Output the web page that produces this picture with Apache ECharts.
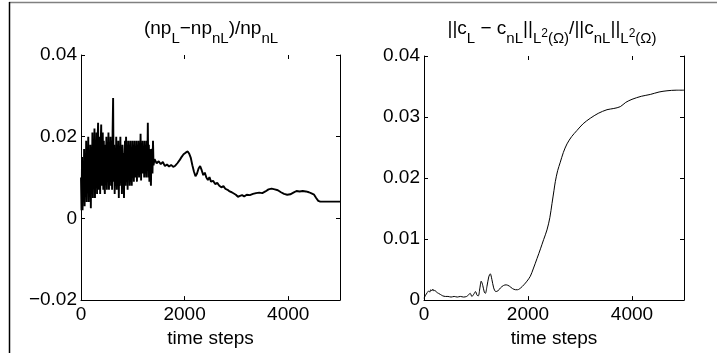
<!DOCTYPE html>
<html>
<head>
<meta charset="utf-8">
<script src="https://cdn.jsdelivr.net/npm/echarts@6/dist/echarts.min.js"></script>
<style>
  html, body { margin: 0; padding: 0; background: #fff; }
  #main { width: 717px; height: 353px; }
</style>
</head>
<body>
<div id="main"></div>
<script>
// left panel: (npL - npnL)/npnL against time steps
var stepsA = [
  0, 10, 20, 30, 40, 50, 60, 70, 80, 90, 100, 110, 120, 130, 140, 150, 160, 170, 180, 190,
  200, 210, 220, 230, 240, 250, 260, 270, 280, 290, 300, 310, 320, 330, 340, 350, 360, 370, 380, 390,
  400, 410, 420, 430, 440, 450, 460, 470, 480, 490, 500, 510, 520, 530, 540, 550, 560, 570, 580, 590,
  600, 610, 620, 630, 640, 650, 660, 670, 680, 690, 700, 710, 720, 730, 740, 750, 760, 770, 780, 790,
  800, 810, 820, 830, 840, 850, 860, 870, 880, 890, 900, 910, 920, 930, 940, 950, 960, 970, 980, 990,
  1000, 1010, 1020, 1030, 1040, 1050, 1060, 1070, 1080, 1090, 1100, 1110, 1120, 1130, 1140, 1150, 1160, 1170, 1180, 1190,
  1200, 1210, 1220, 1230, 1240, 1250, 1260, 1270, 1280, 1290, 1300, 1310, 1320, 1330, 1340, 1350, 1360, 1370, 1380, 1390,
  1400, 1420, 1460, 1500, 1540, 1580, 1620, 1660, 1700, 1740, 1780, 1820, 1860, 1900, 1940, 1980, 2020, 2060, 2090, 2120,
  2150, 2180, 2210, 2240, 2270, 2300, 2330, 2360, 2390, 2420, 2450, 2480, 2510, 2550, 2590, 2630, 2670, 2710, 2750, 2790,
  2830, 2870, 2910, 2950, 2990, 3030, 3070, 3110, 3150, 3200, 3260, 3320, 3380, 3440, 3500, 3560, 3620, 3680, 3740, 3800,
  3860, 3920, 3980, 4040, 4100, 4160, 4220, 4280, 4340, 4400, 4450, 4500, 4540, 4580, 4620, 4700, 4800, 4900, 5000
];
var ratioA = [
  0.010, 0.002, 0.015, 0.002, 0.013, 0.004, 0.017, 0.003, 0.014, 0.006, 0.019, 0.004, 0.016, 0.007, 0.020, 0.004, 0.015, 0.006, 0.018, 0.0025,
  0.016, 0.007, 0.021, 0.005, 0.018, 0.008, 0.022, 0.005, 0.017, 0.008, 0.021, 0.006, 0.019, 0.0234, 0.007, 0.016, 0.020, 0.006, 0.018, 0.023,
  0.008, 0.017, 0.021, 0.007, 0.019, 0.009, 0.006, 0.018, 0.010, 0.020, 0.007, 0.017, 0.009, 0.021, 0.007, 0.018, 0.009, 0.020, 0.008, 0.019,
  0.007, 0.021, 0.0295, 0.009, 0.018, 0.006, 0.017, 0.008, 0.020, 0.007, 0.018, 0.009, 0.019, 0.005, 0.016, 0.008, 0.020, 0.009, 0.017, 0.006,
  0.018, 0.009, 0.016, 0.005, 0.015, 0.019, 0.008, 0.020, 0.009, 0.017, 0.007, 0.019, 0.010, 0.018, 0.008, 0.019, 0.009, 0.016, 0.008, 0.019,
  0.010, 0.018, 0.009, 0.019, 0.010, 0.017, 0.010, 0.019, 0.009, 0.018, 0.011, 0.019, 0.010, 0.017, 0.011, 0.0207, 0.0093, 0.018, 0.011, 0.019,
  0.011, 0.017, 0.010, 0.019, 0.011, 0.018, 0.010, 0.019, 0.012, 0.0234, 0.010, 0.018, 0.009, 0.017, 0.011, 0.008, 0.016, 0.017, 0.011, 0.019,
  0.013, 0.0145, 0.0135, 0.0140, 0.0133, 0.0138, 0.0128, 0.0132, 0.0127, 0.0131, 0.0126, 0.0129, 0.0135, 0.0142, 0.0150, 0.0157, 0.0161, 0.0164, 0.0158, 0.0148,
  0.0130, 0.0115, 0.0103, 0.0110, 0.0122, 0.0128, 0.0118, 0.0106, 0.0112, 0.0100, 0.0094, 0.0101, 0.0090, 0.0092, 0.0084, 0.0087, 0.0080, 0.0076, 0.0079, 0.0072,
  0.0070, 0.0066, 0.0064, 0.0061, 0.0058, 0.0053, 0.0055, 0.0057, 0.0054, 0.0058, 0.0057, 0.0060, 0.0062, 0.0063, 0.0062, 0.0066, 0.0071, 0.0073, 0.0071, 0.0069,
  0.0064, 0.0060, 0.0058, 0.0059, 0.0063, 0.0067, 0.0066, 0.0067, 0.0066, 0.0064, 0.0061, 0.0058, 0.0050, 0.0043, 0.0041, 0.0041, 0.0041, 0.0041, 0.0041
];

// right panel: relative L2 error of c against time steps
var stepsB = [
  0, 30, 60, 90, 110, 130, 150, 170, 190, 210, 240, 280, 320, 360, 410, 460, 520, 580, 640, 700,
  760, 820, 860, 890, 920, 960, 990, 1020, 1045, 1075, 1100, 1130, 1160, 1180, 1210, 1245, 1275, 1305, 1340, 1380,
  1420, 1470, 1530, 1580, 1640, 1700, 1760, 1800, 1860, 1920, 1980, 2044, 2100, 2173, 2240, 2300, 2365, 2420, 2461, 2500,
  2525, 2570, 2621, 2680, 2750, 2840, 2942, 3060, 3198, 3350, 3519, 3650, 3775, 3880, 4000, 4180, 4352, 4520, 4673, 4850, 5000
];
var errB = [
  0.0003, 0.0008, 0.0012, 0.0015, 0.0013, 0.0017, 0.0015, 0.0018, 0.0015, 0.0016, 0.0013, 0.0011, 0.0009, 0.0007, 0.0006, 0.0006, 0.0005, 0.0006, 0.0005, 0.0006,
  0.0005, 0.0006, 0.0009, 0.0011, 0.0006, 0.0010, 0.0014, 0.0008, 0.0007, 0.0020, 0.0031, 0.0024, 0.0013, 0.0011, 0.0022, 0.0038, 0.0043, 0.0034, 0.0020, 0.0014,
  0.0015, 0.0020, 0.0024, 0.0025, 0.0023, 0.0019, 0.0017, 0.0017, 0.0020, 0.0025, 0.0031, 0.0039, 0.0051, 0.0068, 0.0084, 0.0099, 0.0115, 0.0135, 0.0158, 0.0180,
  0.0194, 0.0212, 0.0226, 0.0242, 0.0256, 0.0268, 0.0278, 0.0289, 0.0298, 0.0306, 0.0312, 0.0314, 0.0317, 0.0324, 0.0329, 0.0334, 0.0337, 0.0341, 0.0343, 0.0344, 0.0344
];

var yTicksA = [-0.02, 0, 0.02, 0.04];
var yTicksB = [0, 0.01, 0.02, 0.03, 0.04];

function pairs(xs, ys) {
  var out = [];
  for (var i = 0; i < xs.length; i++) out.push([xs[i], ys[i]]);
  return out;
}

var font = '"Liberation Sans", Arial, Helvetica, sans-serif';

// rich styles for the TeX-like titles.
// token text is drawn centred in its box: main sits at the top of the line,
// subscripts at the bottom of a taller line, the "2" in between
var rich = {
  m: { font: '19px ' + font, height: 20, lineHeight: 20, verticalAlign: 'top', fill: '#000' },
  s: { font: '15px ' + font, height: 15, lineHeight: 27, verticalAlign: 'bottom', fill: '#000' },
  p: { font: '12px ' + font, height: 29, lineHeight: 12, verticalAlign: 'top', fill: '#000' }
};

function xAxisFor(idx, pos) {
  return {
    type: 'value', gridIndex: idx, position: pos,
    min: 0, max: 5000, interval: 2000,
    axisLine: { show: pos === 'bottom', onZero: false, lineStyle: { color: '#000', width: 1 } },
    axisTick: { show: true, inside: true, length: 4, lineStyle: { color: '#000' } },
    axisLabel: {
      show: pos === 'bottom', showMaxLabel: false, margin: 5,
      color: '#000', fontSize: 19, fontFamily: font,
      formatter: function (v) { return String(v); }
    },
    splitLine: { show: false },
    name: pos === 'bottom' ? 'time steps' : '',
    nameLocation: 'middle', nameGap: 25,
    nameTextStyle: { color: '#000', fontSize: 19, fontFamily: font }
  };
}

function yAxisFor(idx, pos, ticks) {
  return {
    type: 'value', gridIndex: idx, position: pos,
    min: ticks[0], max: ticks[ticks.length - 1], interval: ticks[1] - ticks[0],
    axisLine: { show: true, onZero: false, lineStyle: { color: '#000', width: 1 } },
    axisTick: { show: true, inside: true, length: 4, lineStyle: { color: '#000' } },
    axisLabel: {
      show: pos === 'left', margin: 4,
      color: '#000', fontSize: 19, fontFamily: font,
      formatter: function (v) {
        var s = String(Math.round(v * 1000) / 1000);
        return s.replace('-', '\u2212');
      }
    },
    splitLine: { show: false }
  };
}

var myChart = echarts.init(document.getElementById('main'));

var option = {
  backgroundColor: '#fff',
  animation: false,
  grid: [
    { left: 81, top: 55, width: 259, height: 246, containLabel: false },
    { left: 424, top: 56, width: 260, height: 246, containLabel: false }
  ],
  xAxis: [
    xAxisFor(0, 'bottom'), xAxisFor(0, 'top'),
    xAxisFor(1, 'bottom'), xAxisFor(1, 'top')
  ],
  yAxis: [
    yAxisFor(0, 'left', yTicksA), yAxisFor(0, 'right', yTicksA),
    yAxisFor(1, 'left', yTicksB), yAxisFor(1, 'right', yTicksB)
  ],
  series: [{
    name: 'ratio', type: 'line',
    xAxisIndex: 0, yAxisIndex: 0,
    data: pairs(stepsA, ratioA),
    showSymbol: false,
    lineStyle: { color: '#000', width: 1.9 }
  }, {
    name: 'error', type: 'line',
    xAxisIndex: 2, yAxisIndex: 2,
    data: pairs(stepsB, errB),
    showSymbol: false, smooth: 0.3,
    lineStyle: { color: '#000', width: 1 }
  }],
  graphic: [
    // titles
    {
      type: 'text', x: 211, y: 19,
      style: {
        text: '{m|(np}{s|L}{m|\u2212np}{s|nL}{m|)/np}{s|nL}',
        font: '19px ' + font,
        rich: rich, align: 'center', verticalAlign: 'top'
      }
    },
    {
      type: 'text', x: 552, y: 19,
      style: {
        text: '{m|||c}{s|L}{m| \u2212 c}{s|nL}{m|||}{s|L}{p|2}{s|(\u03a9)}{m|/||c}{s|nL}{m|||}{s|L}{p|2}{s|(\u03a9)}',
        font: '19px ' + font,
        rich: rich, align: 'center', verticalAlign: 'top'
      }
    },
    // page frame left over from the figure export
    { type: 'line', shape: { x1: 9, y1: 2.5, x2: 717, y2: 2.5 }, style: { stroke: '#808080', lineWidth: 1.5 } },
    { type: 'line', shape: { x1: 9.5, y1: 2, x2: 9.5, y2: 353 }, style: { stroke: '#000', lineWidth: 1.5 } }
  ]
};

myChart.setOption(option);
</script>
</body>
</html>
